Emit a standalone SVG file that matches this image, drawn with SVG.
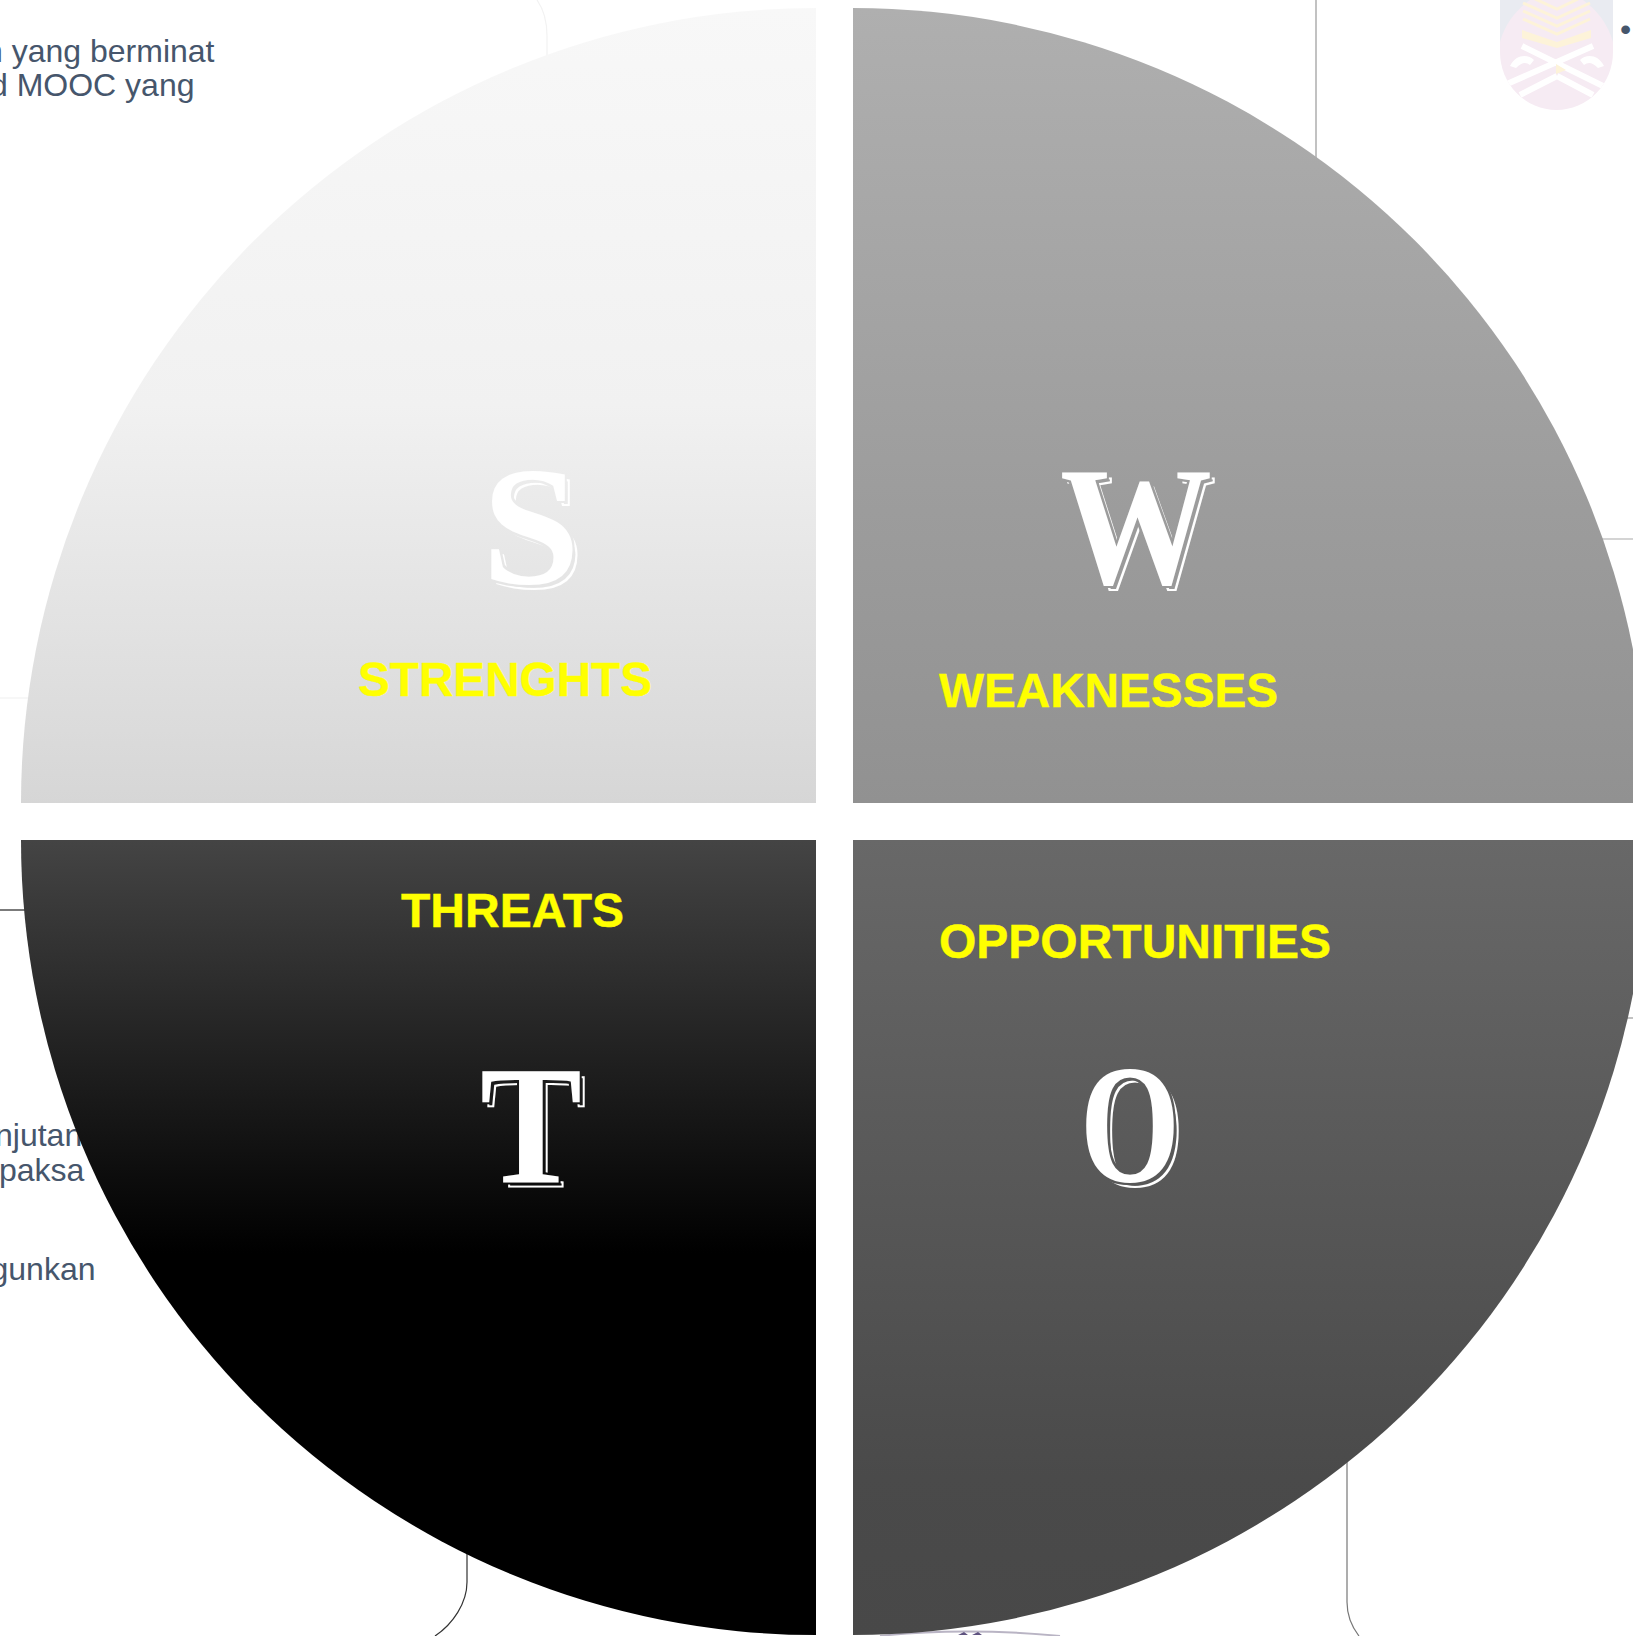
<svg xmlns="http://www.w3.org/2000/svg" width="1633" height="1636" viewBox="0 0 1633 1636">
<style>
.lbl{font-family:"Liberation Sans",Arial,sans-serif;font-weight:700;font-size:48px;fill:#ffff00;stroke:#ffff00;stroke-width:.4}
.ltr{font-family:"Liberation Serif","Times New Roman",serif;font-weight:700;font-size:170px;fill:#fff;filter:url(#inline)}
.bg{font-family:"Liberation Sans",Arial,sans-serif;font-size:32px;fill:#46566c}
.ln{fill:none;stroke-width:1.2}
.chev{fill:none;stroke:#fdf3d9;stroke-width:3}
.xb{fill:none;stroke:#fff;stroke-width:6}
</style>
<defs>
<linearGradient id="gs" x1="0" y1="0" x2="0" y2="1"><stop offset="0" stop-color="#f8f8f8"/><stop offset=".5" stop-color="#f1f1f1"/><stop offset="1" stop-color="#d6d6d6"/></linearGradient>
<linearGradient id="gw" x1="0" y1="0" x2="0" y2="1"><stop offset="0" stop-color="#afafaf"/><stop offset="1" stop-color="#919191"/></linearGradient>
<linearGradient id="gt" x1="0" y1="0" x2="0" y2="1"><stop offset="0" stop-color="#444444"/><stop offset=".52" stop-color="#000000"/><stop offset="1" stop-color="#000000"/></linearGradient>
<linearGradient id="go" x1="0" y1="0" x2="0" y2="1"><stop offset="0" stop-color="#686868"/><stop offset=".8" stop-color="#4a4a4a"/><stop offset="1" stop-color="#484848"/></linearGradient>
<filter id="inline" x="-30%" y="-30%" width="160%" height="160%">
<feOffset in="SourceAlpha" dx="5" dy="5" result="sh"/>
<feMorphology in="sh" operator="erode" radius="2" result="thin"/>
<feComposite in="sh" in2="thin" operator="out" result="ring"/>
<feMorphology in="SourceAlpha" operator="dilate" radius="2" result="fat"/>
<feComposite in="ring" in2="fat" operator="out" result="line"/>
<feFlood flood-color="#ffffff"/>
<feComposite in2="line" operator="in" result="white"/>
<feMerge><feMergeNode in="white"/><feMergeNode in="SourceGraphic"/></feMerge>
</filter>
<clipPath id="shield"><path d="M1500 0H1613V52A56.500 58 0 0 1 1500 52Z"/></clipPath>
</defs>
<rect width="1633" height="1636" fill="#fff"/>
<g id="backdrop">
<path class="ln" stroke="#f2f2f2" d="M537 0C544 10 547 20 547 36V56"/>
<path class="ln" stroke="#f2f2f2" d="M0 698H30"/>
<path class="ln" stroke="#222" d="M0 910H26"/>
<path class="ln" stroke="#333" d="M467 1550V1582C467 1603 453 1624 435 1636"/>
<path class="ln" stroke="#999" d="M1316 0V160"/>
<path class="ln" stroke="#aaa" d="M1600 539H1633"/>
<path class="ln" stroke="#999" d="M1625 1018H1633"/>
<path class="ln" stroke="#777" d="M1347 1460V1602C1347 1615 1352 1627 1359 1636"/>
<text class="bg" x="214.500" y="62" text-anchor="end">n yang berminat</text>
<text class="bg" x="194.500" y="96" text-anchor="end">d MOOC yang</text>
<text class="bg" x="-5" y="1146">njutan</text>
<text class="bg" x="-1" y="1181">paksa</text>
<text class="bg" x="95.500" y="1280" text-anchor="end">gunkan</text>
<text class="bg" x="1620" y="40">•</text>
<g id="logo" clip-path="url(#shield)">
<rect x="1500" y="0" width="113" height="112" fill="#f6ebf3"/>
<path d="M1500 0H1530C1516 10 1505 24 1500 42ZM1613 0H1583C1597 10 1608 24 1613 42Z" fill="#e9ebf1"/>
<path class="chev" d="M1535 -1L1557 9L1578 -1"/>
<path class="chev" d="M1523 3L1557 18L1590 3"/>
<path class="chev" d="M1523 11L1557 26L1590 11"/>
<path class="chev" d="M1523 19L1557 34L1590 19"/>
<path d="M1522 30L1557 42L1591 30V38L1557 48L1522 38Z" fill="#fdf3d9"/>
<path class="xb" d="M1522 46L1605 87M1593 46L1507 84M1520 95L1557 76M1593 95L1557 76"/>
<path d="M1510 66C1516 54 1528 54 1534 60L1530 65C1526 62 1522 62 1516 68ZM1604 66C1598 54 1586 54 1580 60L1584 65C1588 62 1592 62 1598 68Z" fill="#fff"/>
<path d="M1556 64L1566 70L1556 74Z" fill="#fdf3d9"/>
</g>
<g id="seal" fill="none">
<path d="M880 1636C930 1630 1000 1630 1060 1636" stroke="#b9b4c4" stroke-width="2"/>
<path d="M958 1635L964 1632L968 1635ZM972 1635L978 1632L982 1635Z" fill="#5f5380"/>
</g>
</g>
<g id="strengths">
<path d="M816 8A795 795 0 0 0 21 803H816Z" fill="url(#gs)"/>
<text class="ltr" x="482" y="583" textLength="98" lengthAdjust="spacingAndGlyphs">S</text>
<text class="lbl" x="358" y="695.500" textLength="294" lengthAdjust="spacingAndGlyphs">STRENGHTS</text>
</g>
<g id="weaknesses">
<path d="M853 8A795 795 0 0 1 1648 803H853Z" fill="url(#gw)"/>
<text class="ltr" x="1060" y="583" textLength="152" lengthAdjust="spacingAndGlyphs">W</text>
<text class="lbl" x="939" y="706.500" textLength="339" lengthAdjust="spacingAndGlyphs">WEAKNESSES</text>
</g>
<g id="threats">
<path d="M21 840A795 795 0 0 0 816 1635V840Z" fill="url(#gt)"/>
<text class="ltr" x="480" y="1182" textLength="102" lengthAdjust="spacingAndGlyphs">T</text>
<text class="lbl" x="401" y="927">THREATS</text>
</g>
<g id="opportunities">
<path d="M853 1635A795 795 0 0 0 1648 840H853Z" fill="url(#go)"/>
<text class="ltr" x="1080" y="1181" textLength="100" lengthAdjust="spacingAndGlyphs">O</text>
<text class="lbl" x="939" y="958">OPPORTUNITIES</text>
</g>
</svg>
